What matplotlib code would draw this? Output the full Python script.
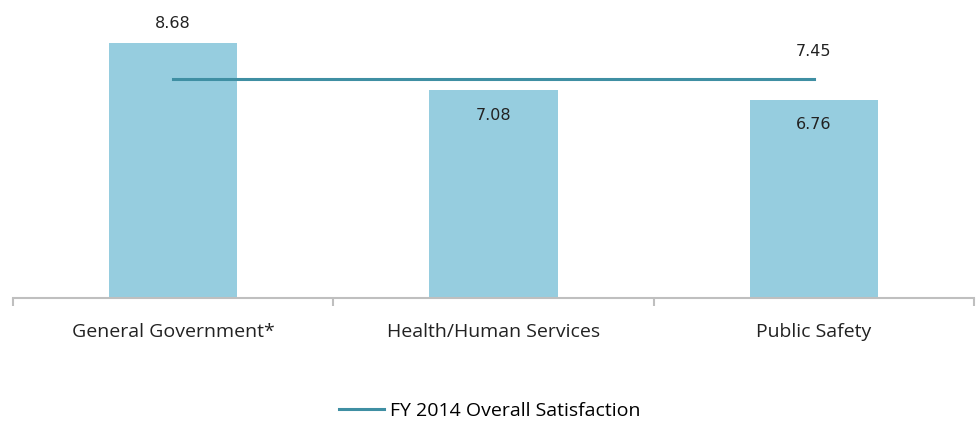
import numpy as np
import matplotlib.pyplot as plt

categories = ['General Government*', 'Health/Human Services', 'Public Safety']
scores = [8.68, 7.08, 6.76]
overall = 7.45
overall_label = 'FY 2014 Overall Satisfaction'

bar_color = '#96CDDF'
line_color = '#3F8FA3'

plt.rcParams['font.family'] = ['Open Sans', 'DejaVu Sans']

fig = plt.figure(figsize=(9.79, 4.23), dpi=100)
ax = fig.add_axes([13 / 979, 125 / 423, 961 / 979, 293.4 / 423])

x = np.arange(len(categories))
ax.bar(x, scores, width=0.4, color=bar_color, zorder=2)
ax.plot([x[0], x[-1]], [overall, overall], color=line_color, lw=2.2,
        label=overall_label, zorder=3)

ax.set_xlim(-0.5, len(categories) - 0.5)
ax.set_ylim(0, 10)

# value labels
ax.annotate('%.2f' % scores[0], (x[0], scores[0]), xytext=(0, 20),
            textcoords='offset pixels', ha='center', va='center',
            fontsize=11.5, color='#222222', family='DejaVu Sans')
for i in (1, 2):
    ax.annotate('%.2f' % scores[i], (x[i], scores[i]), xytext=(0, -25),
                textcoords='offset pixels', ha='center', va='center',
                fontsize=11.5, color='#222222', family='DejaVu Sans')
ax.annotate('%.2f' % overall, (x[-1], overall), xytext=(0, 28),
            textcoords='offset pixels', ha='center', va='center',
            fontsize=11.5, color='#222222', family='DejaVu Sans')

for s in ['top', 'right', 'left']:
    ax.spines[s].set_visible(False)
ax.spines['bottom'].set_color('#BFBFBF')
ax.spines['bottom'].set_linewidth(1.5)
ax.set_yticks([])

ax.set_xticks(x)
ax.set_xticklabels(categories, fontsize=14, color='#222222')
ax.tick_params(axis='x', which='major', length=0, pad=18)
ax.set_xticks(np.arange(-0.5, len(categories)), minor=True)
ax.tick_params(axis='x', which='minor', length=6, width=1.5, color='#BFBFBF')

fig.legend(loc='center', bbox_to_anchor=(0.5, 1 - 411 / 423), frameon=False,
           fontsize=14, handlelength=2.3, handletextpad=0.3)

fig.savefig('out.png', dpi=100)
